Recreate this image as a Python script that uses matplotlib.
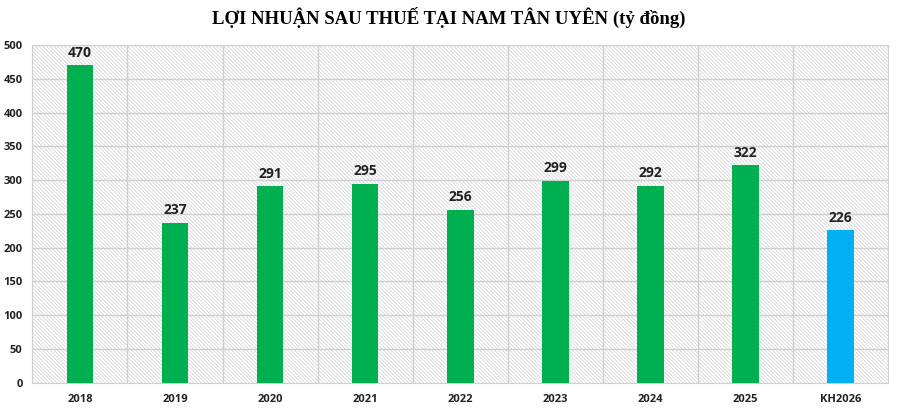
import matplotlib.pyplot as plt
from matplotlib.patches import Rectangle
import numpy as np

years = ["2018", "2019", "2020", "2021", "2022", "2023", "2024", "2025", "KH2026"]
profit = [470, 237, 291, 295, 256, 299, 292, 322, 226]
colors = ["#00B050"] * 8 + ["#00B0F0"]

plt.rcParams['hatch.color'] = '#d8d8d8'
plt.rcParams['hatch.linewidth'] = 0.6

fig = plt.figure(figsize=(8.98, 4.17), dpi=100)
ax = fig.add_axes([0.036, 0.082, 0.953, 0.81])

x = np.arange(len(years))
ax.set_xlim(-0.5, len(years) - 0.5)
ax.set_ylim(0, 500)

# hatched plot background
ax.add_patch(Rectangle((0, 0), 1, 1, transform=ax.transAxes, facecolor='white',
                       edgecolor='#d8d8d8', hatch='\\' * 9, lw=0, zorder=0))

for yv in range(50, 501, 50):
    ax.axhline(yv, color='#d0d0d0', lw=1, zorder=1)
for xv in np.arange(0.5, len(years) - 0.5, 1):
    ax.axvline(xv, color='#d0d0d0', lw=1, zorder=1)

ax.bar(x, profit, width=0.28, color=colors, zorder=3)
for xi, v in zip(x, profit):
    ax.text(xi, v + 8, str(v), ha='center', va='bottom', fontsize=10,
            fontweight='bold', family='Open Sans', color='#222222')

ax.set_xticks(x)
ax.set_xticklabels(years)
ax.set_yticks(range(0, 501, 50))
for lab in ax.get_xticklabels() + ax.get_yticklabels():
    lab.set_fontweight('bold')
    lab.set_fontsize(8)
    lab.set_family('Open Sans')
    lab.set_color('#222222')
ax.tick_params(length=0)
ax.tick_params(axis='x', pad=8)
ax.tick_params(axis='y', pad=7)
for s in ax.spines.values():
    s.set_color('#d0d0d0')

fig.text(0.5, 0.957, "LỢI NHUẬN SAU THUẾ TẠI NAM TÂN UYÊN (tỷ đồng)", ha='center', va='center',
         fontsize=13.5, fontweight='bold', family='Liberation Serif')

fig.savefig("out.png", dpi=100)
